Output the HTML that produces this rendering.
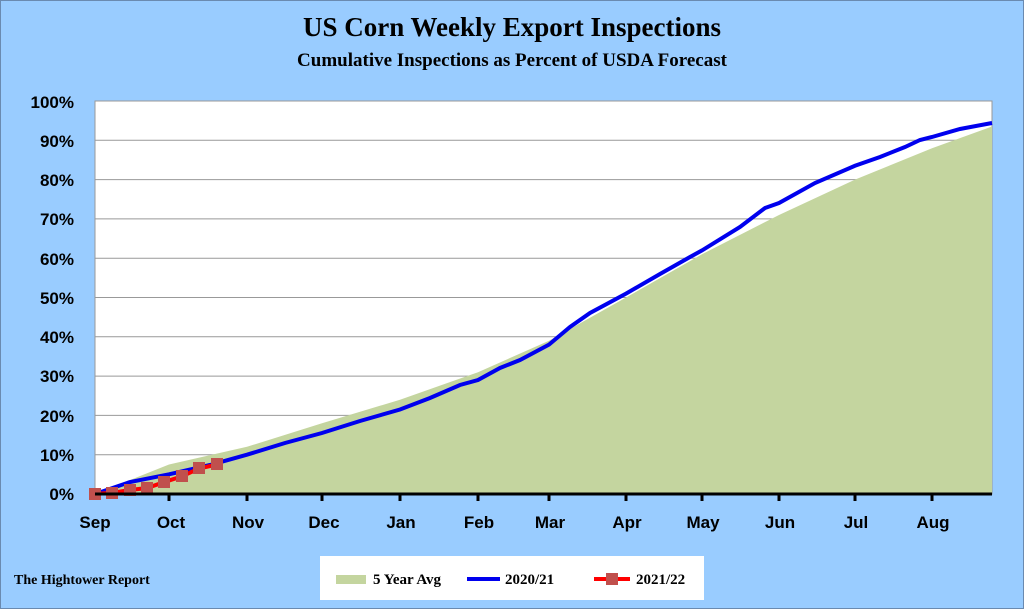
<!DOCTYPE html>
<html><head><style>
body{margin:0;background:#99ccff;}
svg{display:block;font-family:"Liberation Serif",serif;font-weight:bold;}
</style></head><body>
<svg width="1024" height="609" viewBox="0 0 1024 609">
<rect x="0.5" y="0.5" width="1023" height="608" fill="#99ccff" stroke="#6a8ab0"/>
<text x="512" y="36" text-anchor="middle" font-size="27">US Corn Weekly Export Inspections</text>
<text x="512" y="66" text-anchor="middle" font-size="19">Cumulative Inspections as Percent of USDA Forecast</text>
<rect x="95" y="101" width="897" height="393" fill="#fff" stroke="#999"/>
<g stroke="#999" stroke-width="1">
<line x1="95" y1="140.3" x2="992" y2="140.3"/><line x1="95" y1="179.6" x2="992" y2="179.6"/>
<line x1="95" y1="218.9" x2="992" y2="218.9"/><line x1="95" y1="258.2" x2="992" y2="258.2"/>
<line x1="95" y1="297.5" x2="992" y2="297.5"/><line x1="95" y1="336.8" x2="992" y2="336.8"/>
<line x1="95" y1="376.1" x2="992" y2="376.1"/><line x1="95" y1="415.4" x2="992" y2="415.4"/>
<line x1="95" y1="454.7" x2="992" y2="454.7"/>
</g>
<polygon fill="#c4d59f" points="95,494 169,464.5 247,446.8 322,423.3 400,399.7 478,372.2 549,340.7 626,297.5 702,254.3 779,215 855,179.6 932,148.2 992,126.5 992,494"/>
<polyline fill="none" stroke="#0000ee" stroke-width="4" points="95,494 130,482 169,474.3 210,465 247,454.7 285,443 322,433 360,421 400,409.5 430,398 460,385 478,380 500,368 520,360 549,344.6 570,327 590,313 626,293.6 660,274 690,257 702,250.4 740,227 765,208 779,203 815,183 855,165.8 880,157 905,147 920,140 932,137 960,129 992,123"/>
<polyline fill="none" stroke="#ff0000" stroke-width="4" points="95,494 112,492.8 130,490 147,488 164,482.2 182,476.3 199,468.5 217,464.5"/>
<g fill="#c0504d">
<rect x="89" y="488" width="12" height="12"/><rect x="106" y="487" width="12" height="12"/><rect x="124" y="484" width="12" height="12"/><rect x="141" y="482" width="12" height="12"/><rect x="158" y="476" width="12" height="12"/><rect x="176" y="470" width="12" height="12"/><rect x="193" y="462" width="12" height="12"/><rect x="211" y="458" width="12" height="12"/>
</g>
<line x1="95" y1="494" x2="992" y2="494" stroke="#000" stroke-width="3"/>
<g stroke="#000" stroke-width="3">
<line x1="169" y1="494" x2="169" y2="501"/><line x1="247" y1="494" x2="247" y2="501"/><line x1="322" y1="494" x2="322" y2="501"/><line x1="400" y1="494" x2="400" y2="501"/><line x1="478" y1="494" x2="478" y2="501"/><line x1="549" y1="494" x2="549" y2="501"/><line x1="626" y1="494" x2="626" y2="501"/><line x1="702" y1="494" x2="702" y2="501"/><line x1="779" y1="494" x2="779" y2="501"/><line x1="855" y1="494" x2="855" y2="501"/><line x1="932" y1="494" x2="932" y2="501"/>
</g>
<g font-family="Liberation Sans,sans-serif" font-size="17" text-anchor="end">
<text x="74" y="108">100%</text><text x="74" y="147">90%</text><text x="74" y="186">80%</text><text x="74" y="225">70%</text><text x="74" y="265">60%</text><text x="74" y="304">50%</text><text x="74" y="343">40%</text><text x="74" y="382">30%</text><text x="74" y="422">20%</text><text x="74" y="461">10%</text><text x="74" y="500">0%</text>
</g>
<g font-family="Liberation Sans,sans-serif" font-size="17" text-anchor="middle">
<text x="95" y="528">Sep</text><text x="171" y="528">Oct</text><text x="248" y="528">Nov</text><text x="324" y="528">Dec</text><text x="401" y="528">Jan</text><text x="479" y="528">Feb</text><text x="550" y="528">Mar</text><text x="627" y="528">Apr</text><text x="703" y="528">May</text><text x="780" y="528">Jun</text><text x="856" y="528">Jul</text><text x="933" y="528">Aug</text>
</g>
<text x="14" y="584" font-size="14">The Hightower Report</text>
<rect x="320" y="556" width="384" height="44" fill="#fff"/>
<rect x="336" y="575" width="30" height="9" fill="#c4d59f"/>
<text x="373" y="584" font-size="15">5 Year Avg</text>
<line x1="467" y1="579" x2="500" y2="579" stroke="#0000ee" stroke-width="4"/>
<text x="505" y="584" font-size="15">2020/21</text>
<line x1="594" y1="579" x2="630" y2="579" stroke="#ff0000" stroke-width="4"/>
<rect x="606" y="573" width="12" height="12" fill="#c0504d"/>
<text x="636" y="584" font-size="15">2021/22</text>
</svg>
</body></html>
